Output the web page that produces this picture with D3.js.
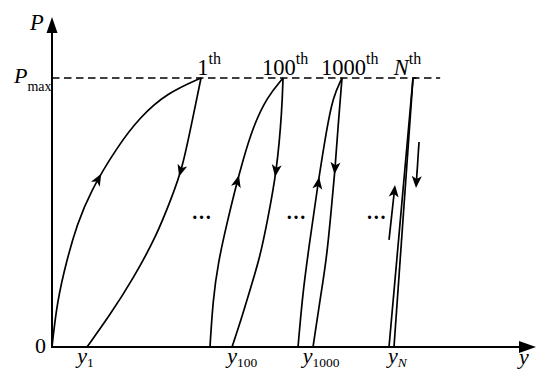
<!DOCTYPE html>
<html><head><meta charset="utf-8">
<script src="https://cdn.jsdelivr.net/npm/d3@7/dist/d3.min.js"></script>
<style>html,body{margin:0;padding:0;background:#fff;}svg{display:block;font-family:'Liberation Serif','Times New Roman',serif;}</style>
</head><body>
<svg id="c" width="550" height="384"></svg>
<script>
// ---- data (y displacement units, P normalised to Pmax = 1) ----
const loopNames = ["1", "100", "1000", "N"];
const loadingCurves = [
  [[0,0],[1.03,0.167],[3.10,0.327],[5.17,0.454],[7.85,0.576],[13.43,0.743],[18.18,0.855],[23.76,0.944],[30.79,1]],
  [[32.64,0],[33.26,0.175],[34.30,0.312],[36.16,0.461],[37.81,0.584],[39.46,0.695],[41.53,0.818],[44.42,0.929],[47.73,1]],
  [[50.83,0],[51.86,0.212],[53.31,0.398],[54.75,0.584],[56.82,0.818],[58.06,0.929],[59.92,1]],
  [[69.63,0],[74.59,1]]
];
const unloadingCurves = [
  [[30.79,1],[29.13,0.855],[26.86,0.658],[24.80,0.560],[21.69,0.416],[16.74,0.253],[11.98,0.119],[7.23,0]],
  [[47.73,1],[47.52,0.881],[46.49,0.658],[44.42,0.461],[42.98,0.335],[40.91,0.212],[39.05,0.100],[37.19,0]],
  [[59.92,1],[59.09,0.818],[58.47,0.658],[58.06,0.584],[56.82,0.335],[55.37,0.175],[53.93,0]],
  [[74.59,1],[70.66,0]]
];
const arrowUpP = [0.625, 0.617, 0.61, null];
const arrowDownP = [0.655, 0.655, 0.665, null];
const separateArrows = [ [[69.63,0.398],[70.87,0.602]], [[75.83,0.762],[75.21,0.591]] ];
const peakLabelX = [30.0, 43.4, 55.6, 70.6];
const tickLabels = ["1", "100", "1000", "N"];
const tickLabelX = [5.2, 36.2, 51.8, 69.4];
const dotsX = [30.9, 50.4, 67.0];
const dotsP = 0.485;
const yMaxP = 1.227;

const svg = d3.select("#c");
const x = d3.scaleLinear().domain([0, 100]).range([52, 536]);
const p = d3.scaleLinear().domain([0, 1]).range([347, 78]);
const serif = "Liberation Serif, Times New Roman, serif";

const line = d3.line().x(d => x(d[0])).y(d => p(d[1])).curve(d3.curveBasis);
const straight = d3.line().x(d => x(d[0])).y(d => p(d[1]));

// dashed Pmax line
svg.append("line").attr("x1", x(0)).attr("x2", x(80.2)).attr("y1", p(1)).attr("y2", p(1))
  .attr("stroke", "#000").attr("stroke-width", 1.6).attr("stroke-dasharray", "7.5,4.5");

// axes
svg.append("line").attr("x1", x(0)).attr("x2", x(0)).attr("y1", p(0) + 1).attr("y2", p(yMaxP) + 10)
  .attr("stroke", "#000").attr("stroke-width", 2);
svg.append("line").attr("x1", x(0) - 1).attr("x2", x(100) - 10).attr("y1", p(0)).attr("y2", p(0))
  .attr("stroke", "#000").attr("stroke-width", 2);
svg.append("path").attr("d", `M${x(0)},${p(yMaxP)} L${x(0)-5.5},${p(yMaxP)+16} L${x(0)+5.5},${p(yMaxP)+16} Z`).attr("fill", "#000");
svg.append("path").attr("d", `M${x(100)},${p(0)} L${x(100)-17},${p(0)-6} L${x(100)-17},${p(0)+6} Z`).attr("fill", "#000");

function arrowHead(cx, cy, ang) {
  const g = svg.append("g").attr("transform", `translate(${cx},${cy}) rotate(${ang*180/Math.PI})`);
  g.append("path").attr("d", "M6,0 L-6,-5 L-3,0 L-6,5 Z").attr("fill", "#000");
}
function arrowOnPath(node, targetY) {
  const L = node.getTotalLength();
  let best = 0, bd = 1e9;
  for (let l = 0; l <= L; l += 0.25) {
    const pt = node.getPointAtLength(l);
    const d = Math.abs(pt.y - targetY);
    if (d < bd) { bd = d; best = l; }
  }
  const a = node.getPointAtLength(Math.max(0, best - 3));
  const b = node.getPointAtLength(Math.min(L, best + 3));
  const pt = node.getPointAtLength(best);
  arrowHead(pt.x, pt.y, Math.atan2(b.y - a.y, b.x - a.x));
}

loadingCurves.forEach((c, i) => {
  const path = svg.append("path").attr("d", c.length > 2 ? line(c) : straight(c))
    .attr("fill", "none").attr("stroke", "#000").attr("stroke-width", 1.7);
  if (arrowUpP[i] != null) arrowOnPath(path.node(), p(arrowUpP[i]));
});
unloadingCurves.forEach((c, i) => {
  const path = svg.append("path").attr("d", c.length > 2 ? line(c) : straight(c))
    .attr("fill", "none").attr("stroke", "#000").attr("stroke-width", 1.7);
  if (arrowDownP[i] != null) arrowOnPath(path.node(), p(arrowDownP[i]));
});
// small horizontal cap at N peak
svg.append("line").attr("x1", x(74.59)).attr("x2", x(75.3)).attr("y1", p(1)).attr("y2", p(1))
  .attr("stroke", "#000").attr("stroke-width", 1.7);

separateArrows.forEach(s => {
  const x1 = x(s[0][0]), y1 = p(s[0][1]), x2 = x(s[1][0]), y2 = p(s[1][1]);
  const ang = Math.atan2(y2 - y1, x2 - x1);
  svg.append("line").attr("x1", x1).attr("y1", y1).attr("x2", x2 - 6*Math.cos(ang)).attr("y2", y2 - 6*Math.sin(ang))
    .attr("stroke", "#000").attr("stroke-width", 1.7);
  arrowHead(x2 - 6*Math.cos(ang), y2 - 6*Math.sin(ang), ang);
});

// peak labels
loopNames.forEach((n, i) => {
  const t = svg.append("text").attr("x", x(peakLabelX[i])).attr("y", p(1) - 3)
    .attr("font-family", serif).attr("font-size", 22.5);
  t.append("tspan").text(n).attr("font-style", n === "N" ? "italic" : "normal");
  t.append("tspan").text("th").attr("font-size", 16).attr("dy", -11);
});

// axis labels
svg.append("text").attr("x", 30).attr("y", 30).attr("font-family", serif)
  .attr("font-size", 22.5).attr("font-style", "italic").text("P");
const pm = svg.append("text").attr("x", 14).attr("y", p(1) + 5).attr("font-family", serif).attr("font-size", 22);
pm.append("tspan").text("P").attr("font-style", "italic");
pm.append("tspan").text("max").attr("font-size", 14).attr("dy", 8);
svg.append("text").attr("x", x(0) - 6).attr("y", p(0) + 6).attr("text-anchor", "end")
  .attr("font-family", serif).attr("font-size", 22).text("0");
svg.append("text").attr("x", 519).attr("y", p(0) + 17).attr("font-family", serif)
  .attr("font-size", 22).attr("font-style", "italic").text("y");

tickLabels.forEach((s, i) => {
  const t = svg.append("text").attr("x", x(tickLabelX[i])).attr("y", p(0) + 16)
    .attr("font-family", serif).attr("font-size", 22);
  t.append("tspan").text("y").attr("font-style", "italic");
  t.append("tspan").text(s).attr("font-size", 13.5).attr("dy", 4).attr("font-style", s === "N" ? "italic" : "normal");
});

dotsX.forEach(d => {
  svg.append("text").attr("x", x(d)).attr("y", p(dotsP) + 2).attr("text-anchor", "middle")
    .attr("font-family", serif).attr("font-size", 20).attr("font-weight", "bold").text("\u2026");
});
</script>
</body></html>
